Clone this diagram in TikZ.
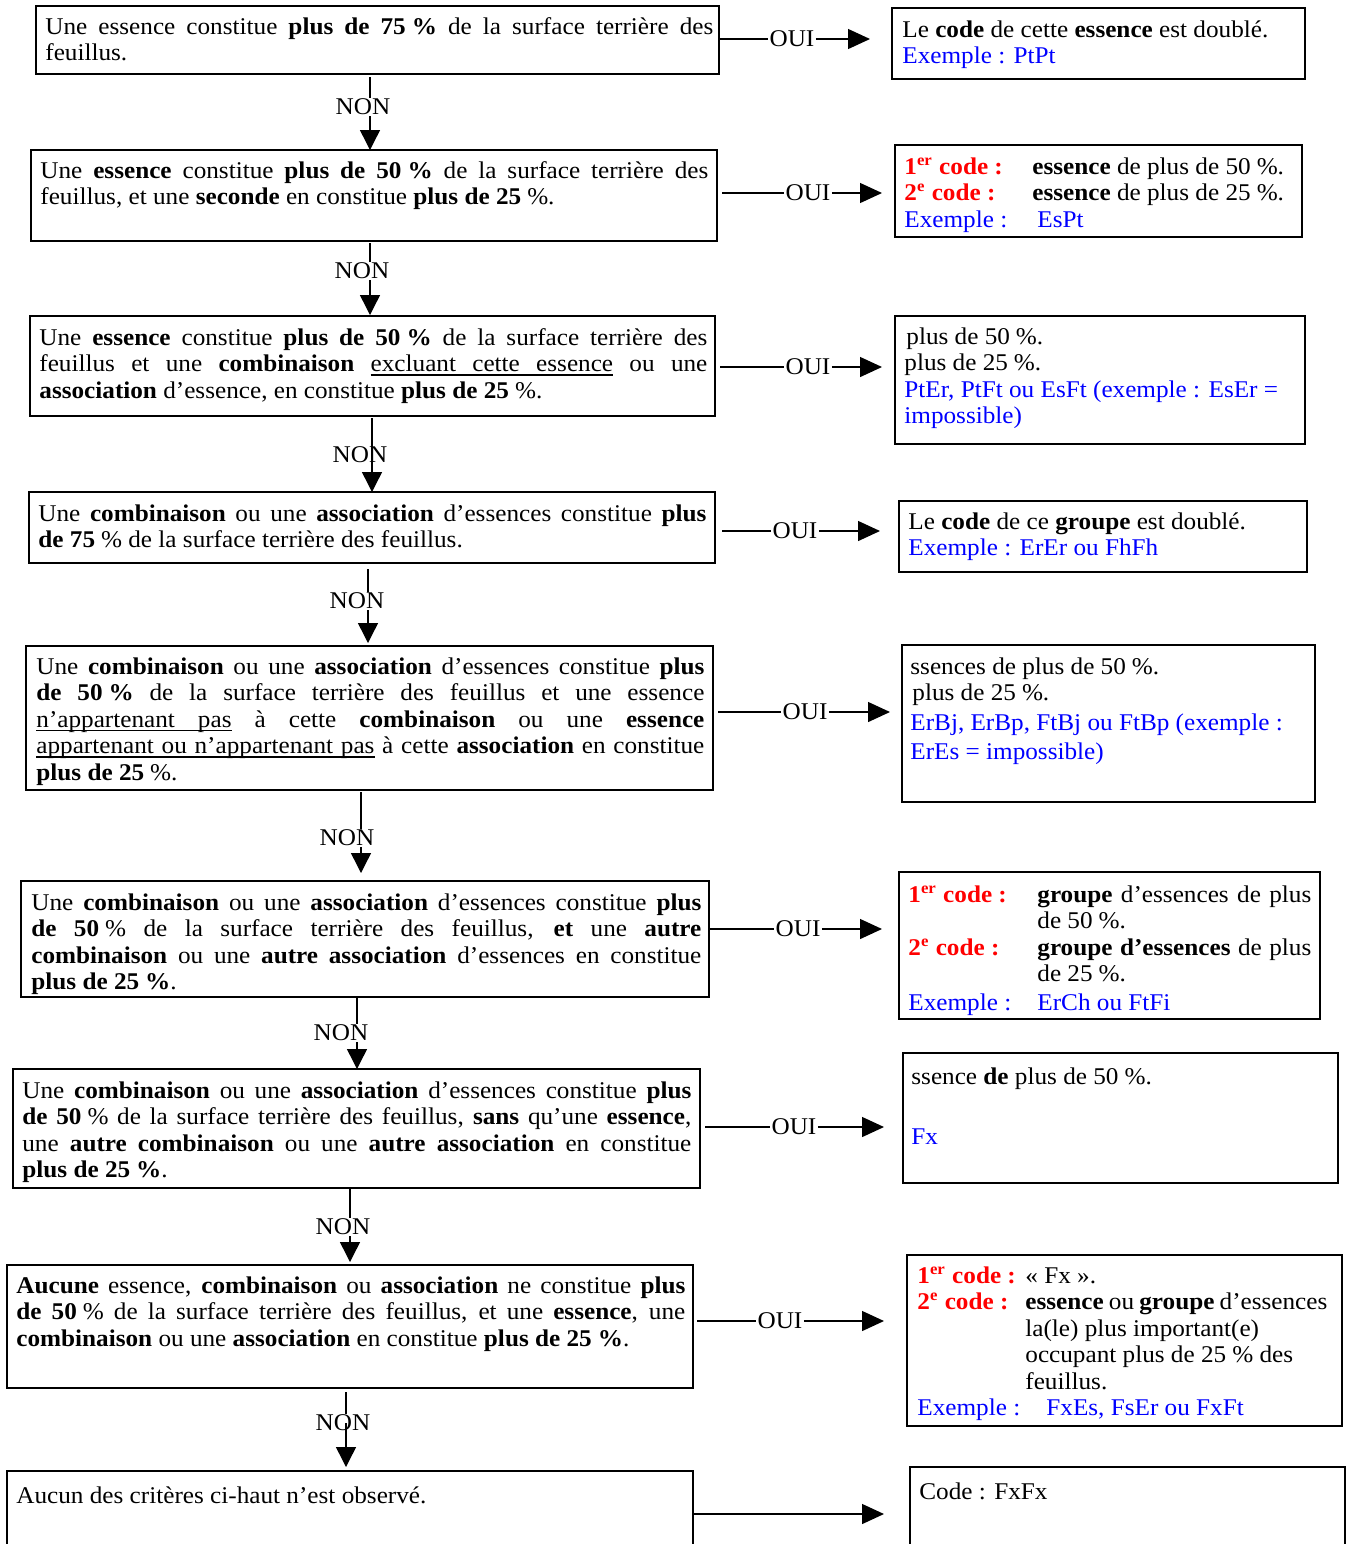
\documentclass[tikz,border=0pt]{standalone}
\usepackage{fontspec}
\setmainfont{Liberation Serif}[FakeStretch=1.05]
\usetikzlibrary{arrows.meta,fit}
\newcommand\jl[1]{\hbox to\linewidth{#1}}
\newcommand\pct{\kern0.25em\%}
\newcommand\uw[1]{\setbox0\hbox{#1}\rlap{\vrule height -1.4pt depth 2.1pt width \wd0}\box0\relax}
\newcommand\us{\leaders\hrule height -1.4pt depth 2.1pt\hskip\fontdimen2\font plus\fontdimen3\font minus\fontdimen4\font\relax}
\newcommand\codeA{\textcolor{red}{\textbf{1\textsuperscript{er} code :}}}
\newcommand\codeB{\textcolor{red}{\textbf{2\textsuperscript{e} code :}}}
\tikzset{
  box/.style={draw, line width=1pt, inner sep=0pt},
  txt/.style={anchor=base west, inner sep=0pt, font=\fontsize{12pt}{13.25pt}\selectfont},
  lab/.style={inner sep=0.5pt, font=\fontsize{12pt}{13.25pt}\selectfont},
  conn/.style={line width=0.7pt},
  arr/.style={conn, -{Triangle[length=11pt,width=10pt]}},
  varr/.style={conn, -{Triangle[length=10pt,width=10pt]}},
}
\begin{document}
\begin{tikzpicture}[x=0.5pt,y=-0.5pt]
\useasboundingbox (0,0) rectangle (1350,1544);
% ---------- left boxes ----------
\node[box, fit={(36,6) (719,74)}] (L1) {};
\node[box, fit={(31,150) (717,241)}] (L2) {};
\node[box, fit={(30,316) (715,416)}] (L3) {};
\node[box, fit={(29,492) (715,563)}] (L4) {};
\node[box, fit={(26,646) (713,790)}] (L5) {};
\node[box, fit={(21,881) (709,997)}] (L6) {};
\node[box, fit={(13,1069) (700,1188)}] (L7) {};
\node[box, fit={(7,1265) (693,1388)}] (L8) {};
\node[box, fit={(7,1471) (693,1570)}] (L9) {};
% ---------- right boxes ----------
\node[box, fit={(892,8) (1305,79)}] (R1) {};
\node[box, fit={(895,145) (1302,237)}] (R2) {};
\node[box, fit={(895,316) (1305,444)}] (R3) {};
\node[box, fit={(899,501) (1307,572)}] (R4) {};
\node[box, fit={(902,645) (1315,802)}] (R5) {};
\node[box, fit={(899,872) (1320,1019)}] (R6) {};
\node[box, fit={(903,1053) (1338,1183)}] (R7) {};
\node[box, fit={(907,1255) (1342,1426)}] (R8) {};
\node[box, fit={(910,1467) (1345,1570)}] (R9) {};
% ---------- left texts ----------
\node[txt] (L1t) at (45,34) {\parbox[t]{334pt}{%
\jl{Une essence constitue \textbf{plus de 75\pct} de la surface terrière des}
feuillus.}};
\node[txt] (L2t) at (40,178) {\parbox[t]{334pt}{%
\jl{Une \textbf{essence} constitue \textbf{plus de 50\pct} de la surface terrière des}
feuillus, et une \textbf{seconde} en constitue \textbf{plus de 25}\pct.}};
\node[txt] (L3t) at (39,345) {\parbox[t]{334pt}{%
\jl{Une \textbf{essence} constitue \textbf{plus de 50\pct} de la surface terrière des}
\jl{feuillus et une \textbf{combinaison} \uw{excluant}\us\uw{cette}\us\uw{essence} ou une}
\textbf{association} d’essence, en constitue \textbf{plus de 25}\pct.}};
\node[txt] (L4t) at (38,521) {\parbox[t]{334pt}{%
\jl{Une \textbf{combinaison} ou une \textbf{association} d’essences constitue \textbf{plus}}
\textbf{de 75}\pct{} de la surface terrière des feuillus.}};
\node[txt] (L5t) at (36,674) {\parbox[t]{334pt}{%
\jl{Une \textbf{combinaison} ou une \textbf{association} d’essences constitue \textbf{plus}}
\jl{\textbf{de 50\pct} de la surface terrière des feuillus et une essence}
\jl{\uw{n’appartenant}\us\uw{pas} à cette \textbf{combinaison} ou une \textbf{essence}}
\jl{\uw{appartenant}\us\uw{ou}\us\uw{n’appartenant}\us\uw{pas} à cette \textbf{association} en constitue}
\textbf{plus de 25}\pct.}};
\node[txt] (L6t) at (31,910) {\parbox[t]{335pt}{%
\jl{Une \textbf{combinaison} ou une \textbf{association} d’essences constitue \textbf{plus}}
\jl{\textbf{de 50}\pct{} de la surface terrière des feuillus, \textbf{et} une \textbf{autre}}
\jl{\textbf{combinaison} ou une \textbf{autre association} d’essences en constitue}
\textbf{plus de 25\pct}.}};
\node[txt] (L7t) at (22,1098) {\parbox[t]{334.5pt}{%
\jl{Une \textbf{combinaison} ou une \textbf{association} d’essences constitue \textbf{plus}}
\jl{\textbf{de 50}\pct{} de la surface terrière des feuillus, \textbf{sans} qu’une \textbf{essence},}
\jl{une \textbf{autre combinaison} ou une \textbf{autre association} en constitue}
\textbf{plus de 25\pct}.}};
\node[txt] (L8t) at (16,1293) {\parbox[t]{334.5pt}{%
\jl{\textbf{Aucune} essence, \textbf{combinaison} ou \textbf{association} ne constitue \textbf{plus}}
\jl{\textbf{de 50}\pct{} de la surface terrière des feuillus, et une \textbf{essence}, une}
\textbf{combinaison} ou une \textbf{association} en constitue \textbf{plus de 25\pct}.}};
\node[txt] (L9t) at (16,1503) {Aucun des critères ci-haut n’est observé.};
% ---------- right texts ----------
\node[txt] (R1t) at (902,37) {\parbox[t]{200pt}{%
Le \textbf{code} de cette \textbf{essence} est doublé.\\
\textcolor{blue}{Exemple : PtPt}}};
\node[txt] (R2t) at (904,174) {\parbox[t]{200pt}{%
\makebox[64pt][l]{\codeA}\textbf{essence} de plus de 50\pct.\\
\makebox[64pt][l]{\codeB}\textbf{essence} de plus de 25\pct.\\
\textcolor{blue}{\makebox[66.5pt][l]{Exemple :}EsPt}}};
\node[txt] (R3t) at (904,344) {\parbox[t]{200pt}{%
\hspace*{1pt}plus de 50\pct.\\
plus de 25\pct.\\
\textcolor{blue}{PtEr, PtFt ou EsFt (exemple : EsEr =}\\
\textcolor{blue}{impossible)}}};
\node[txt] (R4t) at (908,529) {\parbox[t]{200pt}{%
Le \textbf{code} de ce \textbf{groupe} est doublé.\\
\textcolor{blue}{Exemple : ErEr ou FhFh}}};
\node[txt] (R5t) at (910,674) {\parbox[t]{200pt}{%
ssences de plus de 50\pct.\\
\hspace*{1pt}plus de 25\pct.\\[1.5pt]
\textcolor{blue}{ErBj, ErBp, FtBj ou FtBp (exemple :}\\[1.5pt]
\textcolor{blue}{ErEs = impossible)}}};
\node[txt] (R6t) at (908,902) {\parbox[t]{205pt}{%
\makebox[64.5pt][l]{\codeA}\hbox to 137pt{\textbf{groupe} d’essences de plus}\\
\hspace*{64.5pt}de 50\pct.\\
\makebox[64.5pt][l]{\codeB}\hbox to 137pt{\textbf{groupe d’essences} de plus}\\
\hspace*{64.5pt}de 25\pct.\\[1pt]
\textcolor{blue}{\makebox[64.5pt][l]{Exemple :}ErCh ou FtFi}}};
\node[txt] (R7t) at (911,1084) {\parbox[t]{205pt}{%
ssence \textbf{de} plus de 50\pct.\\[16.75pt]
\textcolor{blue}{Fx}}};
\node[txt] (R8t) at (917,1283) {\parbox[t]{205pt}{%
\makebox[54pt][l]{\codeA}«~Fx~».\\
\makebox[54pt][l]{\codeB}\textbf{essence} ou \textbf{groupe} d’essences\\
\hspace*{54pt}la(le) plus important(e)\\
\hspace*{54pt}occupant plus de 25\pct{} des\\
\hspace*{54pt}feuillus.\\
\textcolor{blue}{\makebox[64.5pt][l]{Exemple :}FxEs, FsEr ou FxFt}}};
\node[txt] (R9t) at (919,1499) {Code : FxFx};
% ---------- horizontal OUI connectors ----------
\coordinate (h1s) at (719,39);  \node[lab] (o1) at (792,39) {OUI};  \coordinate (h1e) at (870,39);
\coordinate (h2s) at (722,193); \node[lab] (o2) at (808,193) {OUI}; \coordinate (h2e) at (882,193);
\coordinate (h3s) at (720,367); \node[lab] (o3) at (808,367) {OUI}; \coordinate (h3e) at (882,367);
\coordinate (h4s) at (722,531); \node[lab] (o4) at (795,531) {OUI}; \coordinate (h4e) at (880,531);
\coordinate (h5s) at (718,712); \node[lab] (o5) at (805,712) {OUI}; \coordinate (h5e) at (890,712);
\coordinate (h6s) at (709,929); \node[lab] (o6) at (798,929) {OUI}; \coordinate (h6e) at (882,929);
\coordinate (h7s) at (705,1127); \node[lab] (o7) at (794,1127) {OUI}; \coordinate (h7e) at (884,1127);
\coordinate (h8s) at (697,1321); \node[lab] (o8) at (780,1321) {OUI}; \coordinate (h8e) at (884,1321);
\coordinate (h9s) at (693,1514); \coordinate (h9e) at (884,1514);
\foreach \i in {1,...,8} {
  \draw[conn] (h\i s) -- (o\i);
  \draw[arr] (o\i) -- (h\i e);
}
\draw[arr] (h9s) -- (h9e);
% ---------- vertical NON connectors ----------
\coordinate (v1s) at (370,77);   \node[lab] (n1) at (363,107) {NON};  \coordinate (v1e) at (370,150);
\coordinate (v2s) at (370,243);  \node[lab] (n2) at (362,271) {NON};  \coordinate (v2e) at (370,315);
\coordinate (v3s) at (372,418);  \node[lab] (n3) at (360,455) {NON};  \coordinate (v3e) at (372,492);
\coordinate (v4s) at (368,569);  \node[lab] (n4) at (357,601) {NON};  \coordinate (v4e) at (368,643);
\coordinate (v5s) at (361,792);  \node[lab] (n5) at (347,838) {NON};  \coordinate (v5e) at (361,873);
\coordinate (v6s) at (357,998);  \node[lab] (n6) at (341,1033) {NON}; \coordinate (v6e) at (357,1069);
\coordinate (v7s) at (350,1189); \node[lab] (n7) at (343,1227) {NON}; \coordinate (v7e) at (350,1262);
\coordinate (v8s) at (346,1392); \node[lab] (n8) at (343,1423) {NON}; \coordinate (v8e) at (346,1467);
\foreach \i in {1,2,4,5,6,7} {
  \draw[conn] (v\i s) -- (v\i s |- n\i.north);
  \draw[varr] (v\i s |- n\i.south) -- (v\i e);
}
\draw[varr] (v3s) -- (v3e);
\draw[conn] (v8s) -- (v8s |- n8.north);
\draw[varr] (v8s |- n8) -- (v8e);
\end{tikzpicture}
\end{document}
